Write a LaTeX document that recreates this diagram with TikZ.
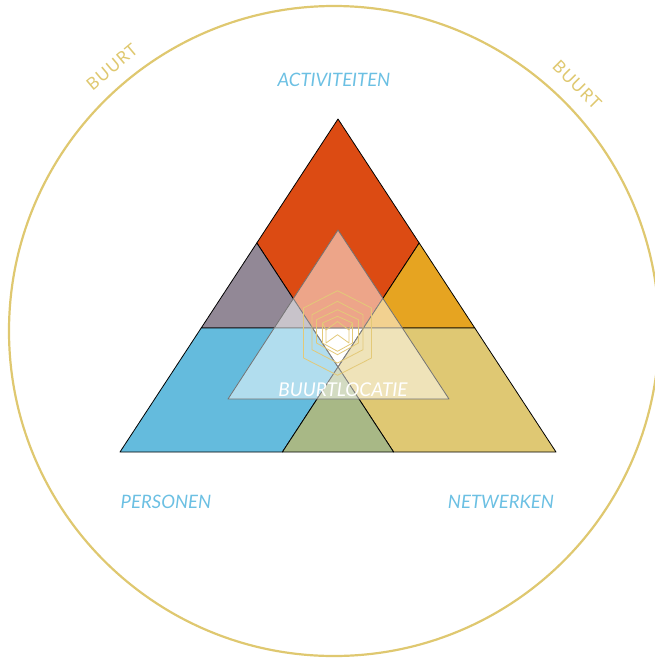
\documentclass[tikz,border=0pt]{standalone}
\usepackage{fontspec}
\setmainfont{Lato}
\newfontfamily\spacedfont[LetterSpace=6]{Lato}
\definecolor{ringgold}{HTML}{DFC870}
\definecolor{textblue}{HTML}{6CC0E3}
\definecolor{actred}{HTML}{DC4B13}
\definecolor{mixgray}{HTML}{928896}
\definecolor{mixorange}{HTML}{E6A421}
\definecolor{perblue}{HTML}{64BBDD}
\definecolor{netgold}{HTML}{DFC873}
\definecolor{mixgreen}{HTML}{A8B886}
\definecolor{hexgold}{HTML}{E3C978}

\tikzstyle{region}=[draw=black,line width=0.8pt,line join=round]
\tikzstyle{centretri}=[fill=white,fill opacity=0.5,draw=black!55,line width=0.8pt,line join=round]
\tikzstyle{hexline}=[draw=hexgold,line width=0.8pt,line join=round]
\tikzstyle{sidetext}=[text=textblue,font=\fontsize{18.5}{20}\selectfont\itshape]
\tikzstyle{buurttext}=[text=ringgold,font=\fontsize{17}{19}\selectfont\spacedfont]

\begin{document}
\begin{tikzpicture}[x=1pt,y=-1pt]
\useasboundingbox (0,0) rectangle (654,659);
% ring
\draw[ringgold,line width=2.2pt] (334,331) circle (325);
\node[buurttext,rotate=40]  (buurt_l) at (112,67) {BUURT};
\node[buurttext,rotate=-45] (buurt_r) at (577,85) {BUURT};
% triangle parts
\draw[region,fill=actred]    (338,119) -- (419.2,243) -- (363.5,328) -- (312.5,328) -- (256.8,243) -- cycle;
\draw[region,fill=mixgray]   (256.8,243) -- (312.5,328) -- (201.2,328) -- cycle;
\draw[region,fill=mixorange] (419.2,243) -- (474.8,328) -- (363.5,328) -- cycle;
\draw[region,fill=perblue]   (201.2,328) -- (312.5,328) -- (338,367) -- (282.4,452) -- (120,452) -- cycle;
\draw[region,fill=netgold]   (474.8,328) -- (363.5,328) -- (338,367) -- (393.6,452) -- (556,452) -- cycle;
\draw[region,fill=mixgreen]  (338,367) -- (282.4,452) -- (393.6,452) -- cycle;
\draw[region]                (312.5,328) -- (363.5,328) -- (338,367) -- cycle;
% centre
\draw[centretri] (338,230) -- (228,399) -- (449,399) -- cycle;
\draw[hexline] (337.5,290.7) -- (371.5,308) -- (371.5,358) -- (337.5,375.3) -- (303.5,358) -- (303.5,308) -- cycle;
\draw[hexline] (337.5,301.3) -- (363,314.7) -- (363,349.7) -- (337.5,363) -- (312,349.7) -- (312,314.7) -- cycle;
\draw[hexline] (337.5,309.7) -- (358.5,319.7) -- (358.5,343) -- (337.5,354.7) -- (316.5,343) -- (316.5,319.7) -- cycle;
\draw[hexline] (337.5,316.3) -- (352.5,323) -- (352.5,343) -- (337.5,351.3) -- (322.5,343) -- (322.5,323) -- cycle;
% box inside
\draw[hexline] (322.5,323) -- (326,330) -- (337.5,321.5) -- (349,330) -- (352.5,323);
\draw[hexline] (326,330) -- (326,343) -- (337.5,334.7) -- (349,343) -- (349,330);
\node[text=white,font=\fontsize{19}{21}\selectfont\itshape] (locatie) at (343,390) {BUURTLOCATIE};
% labels
\node[sidetext] (activiteiten) at (334,80)  {ACTIVITEITEN};
\node[sidetext] (personen)     at (166,502) {PERSONEN};
\node[sidetext] (netwerken)    at (501,502) {NETWERKEN};
\end{tikzpicture}
\end{document}
